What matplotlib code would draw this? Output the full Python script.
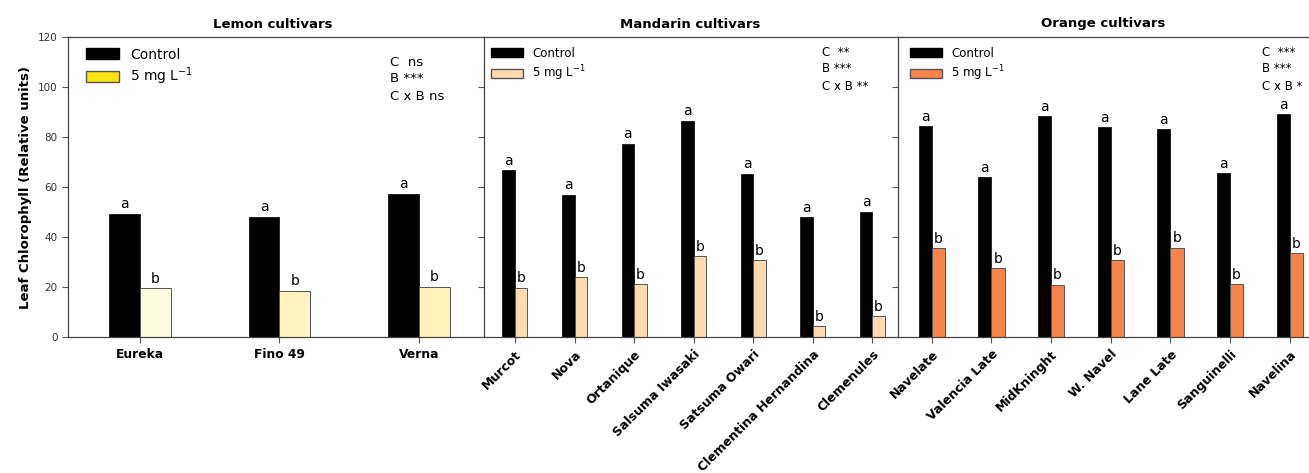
import matplotlib.pyplot as plt
import numpy as np

# data
lemon = ['Eureka', 'Fino 49', 'Verna']
lemon_ctrl = [49.4, 48.1, 57.3]
lemon_b = [19.5, 18.6, 20.1]

mandarin = ['Murcot', 'Nova', 'Ortanique', 'Salsuma Iwasaki', 'Satsuma Owari',
            'Clementina Hernandina', 'Clemenules']
mandarin_ctrl = [66.7, 56.9, 77.3, 86.5, 65.3, 48.0, 50.1]
mandarin_b = [19.8, 24.0, 21.2, 32.3, 30.7, 4.5, 8.4]

orange = ['Navelate', 'Valencia Late', 'MidKninght', 'W. Navel', 'Lane Late',
          'Sanguinelli', 'Navelina']
orange_ctrl = [84.2, 63.9, 88.3, 83.8, 83.1, 65.5, 89.1]
orange_b = [35.5, 27.5, 20.9, 30.8, 35.8, 21.2, 33.5]

titles = ['Lemon cultivars', 'Mandarin cultivars', 'Orange cultivars']
stats = [['C  ns', 'B ***', 'C x B ns'],
         ['C  **', 'B ***', 'C x B **'],
         ['C  ***', 'B ***', 'C x B *']]

W, H = 1309, 473
fig = plt.figure(figsize=(W / 100, H / 100), dpi=100)

def px(x0, x1):
    return [x0 / W, (H - 337.3) / H, (x1 - x0) / W, (337.3 - 36.7) / H]

panels = [
    dict(rect=px(68, 484), names=lemon, ctrl=lemon_ctrl, trt=lemon_b,
         colors=['#fffbe0', '#fff3c2', '#fff2b8'], legcolor='#f7e414',
         xlim=(-0.516, 2.466), w=0.22, rot=0, legfs=10, hl=2.4, leg=(80, 42)),
    dict(rect=px(484, 898), names=mandarin, ctrl=mandarin_ctrl, trt=mandarin_b,
         colors=['#fddbb0'] * 7, legcolor='#fddbb0',
         xlim=(-0.52, 6.43), w=0.21, rot=45, legfs=8.5, hl=2.7, leg=(486, 42)),
    dict(rect=px(898, 1310), names=orange, ctrl=orange_ctrl, trt=orange_b,
         colors=['#f7844a'] * 7, legcolor='#f7844a',
         xlim=(-0.565, 6.34), w=0.22, rot=45, legfs=8.5, hl=2.7, leg=(905, 42)),
]
stat_x = [390, 822, 1262]
title_x = [273, 690, 1103]

for i, p in enumerate(panels):
    ax = fig.add_axes(p['rect'])
    x = np.arange(len(p['names']))
    w = p['w']
    ax.bar(x - w / 2, p['ctrl'], w, color='black', edgecolor='black', linewidth=0.5)
    ax.bar(x + w / 2, p['trt'], w, color=p['colors'], edgecolor='#555555', linewidth=0.7)
    for xi, c, t in zip(x, p['ctrl'], p['trt']):
        ax.text(xi - w / 2, c + 1.0, 'a', ha='center', va='bottom', fontsize=10)
        ax.text(xi + w / 2, t + 1.0, 'b', ha='center', va='bottom', fontsize=10)
    ax.set_xlim(*p['xlim'])
    ax.set_ylim(0, 120)
    ax.set_yticks(range(0, 121, 20))
    ax.tick_params(axis='y', direction='out', length=4, width=0.8, labelsize=7.5,
                   labelcolor='#333333', color='#555555')
    ax.tick_params(axis='x', direction='out', length=4, width=0.8, color='#555555')
    ax.set_xticks(x)
    if p['rot']:
        ax.set_xticklabels(p['names'], rotation=45, ha='right', rotation_mode='anchor',
                           fontweight='bold', fontsize=9)
    else:
        ax.set_xticklabels(p['names'], fontweight='bold', fontsize=8.8)
    if i == 0:
        ax.set_ylabel('Leaf Chlorophyll (Relative units)', fontweight='bold', fontsize=9.5)
    else:
        ax.set_yticklabels([])
    for s in ax.spines.values():
        s.set_color('#444444')
        s.set_linewidth(0.9)
    ax.spines['right'].set_visible(False)
    hs = [plt.Rectangle((0, 0), 1, 1, facecolor='black', edgecolor='black'),
          plt.Rectangle((0, 0), 1, 1, facecolor=p['legcolor'], edgecolor='#555555')]
    lx, ly = p['leg']
    ax.legend(hs, ['Control', '5 mg L$^{-1}$'], loc='upper left', frameon=False,
              bbox_to_anchor=(lx / W, 1 - ly / H), bbox_transform=fig.transFigure,
              fontsize=p['legfs'], handlelength=p['hl'], handleheight=0.8,
              borderaxespad=0, labelspacing=0.3, handletextpad=0.8)
    fig.text(title_x[i] / W, 1 - 24 / H, titles[i], ha='center', va='center',
             fontweight='bold', fontsize=9.5)
    for j, s in enumerate(stats[i]):
        fig.text(stat_x[i] / W, 1 - (52 + 17 * j + (10 if i == 0 else 0)) / H, s,
                 ha='left', va='center', fontsize=9.5 if i == 0 else 8.5)

fig.savefig('out.png', dpi=100)
